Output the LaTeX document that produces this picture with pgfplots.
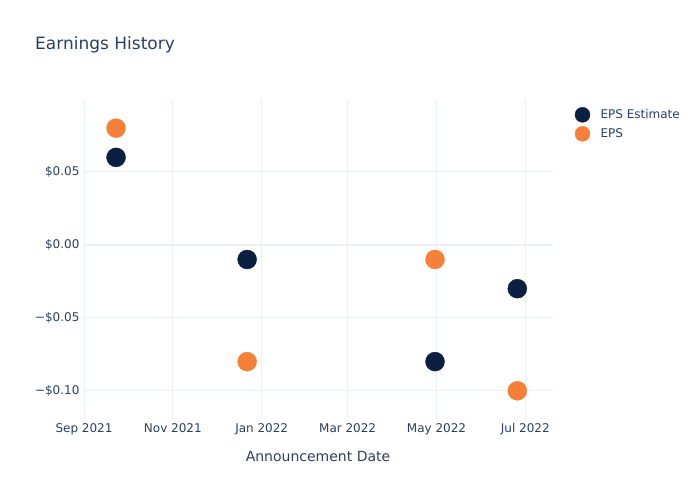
\documentclass[border=0pt]{standalone}
\usepackage{fontspec}
\setmainfont{DejaVu Sans}
\usepackage{pgfplots}
\pgfplotsset{compat=1.18}
\definecolor{txt}{HTML}{2A3F5F}
\definecolor{gridc}{HTML}{EBF0F8}
\definecolor{navy}{HTML}{0B1F40}
\definecolor{orng}{HTML}{F6803A}
\begin{document}
\begin{tikzpicture}[x=1pt,y=1pt]
\path[use as bounding box] (0,0) rectangle (700,500);
\node[anchor=west, inner sep=0pt, text=txt, font=\fontsize{17}{20}\selectfont] at (35,455) {Earnings History};
\begin{axis}[
  at={(83pt,80pt)}, anchor=south west,
  width=470pt, height=320pt, scale only axis,
  xmin=-0.7, xmax=322, ymin=-0.12, ymax=0.0993,
  xtick={0,61,122,181,242,303},
  xticklabels={Sep 2021,Nov 2021,Jan 2022,Mar 2022,May 2022,Jul 2022},
  ytick={-0.1,-0.05,0,0.05},
  yticklabels={−\$0.10,−\$0.05,\$0.00,\$0.05},
  tick label style={text=txt, font=\fontsize{12}{14}\selectfont},
  grid=major, major grid style={gridc, line width=1pt},
  extra y ticks={0}, extra y tick labels={},
  extra y tick style={grid=major, major grid style={gridc, line width=2pt}},
  axis line style={draw=none}, major tick length=0pt,
  xlabel={Announcement Date},
  xlabel style={at={(axis description cs:0.5,0)}, anchor=center, yshift=-36pt, text=txt, font=\fontsize{14}{16}\selectfont},
  legend style={at={(axis description cs:1.04,0.984)}, anchor=north west, draw=none, fill=none,
    font=\fontsize{12}{14}\selectfont, text=txt, row sep=4pt, cells={anchor=west}},
  legend image code/.code={\draw[#1, mark size=7.5pt] plot coordinates {(0pt,0pt)}; \path[draw=none,fill=none] (-7.5pt,-7.5pt) rectangle (16pt,7.5pt);},
  clip=false,
]
\addplot[only marks, mark=*, mark size=9.5pt, draw=navy, fill=navy] coordinates {
(22,0.06) (112,-0.01) (241,-0.08) (297.5,-0.03)};
\addlegendentry{EPS Estimate}
\addplot[only marks, mark=*, mark size=9.5pt, draw=orng, fill=orng] coordinates {
(22,0.08) (112,-0.08) (241,-0.01) (297.5,-0.10)};
\addlegendentry{EPS}
\end{axis}
\end{tikzpicture}
\end{document}
